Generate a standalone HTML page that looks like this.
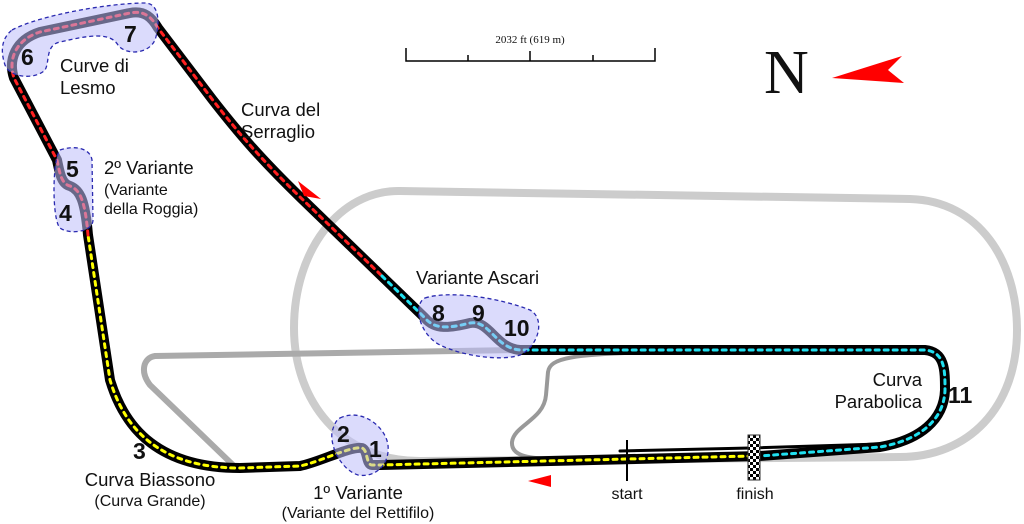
<!DOCTYPE html>
<html><head><meta charset="utf-8"><style>
html,body{margin:0;padding:0;background:#fff;}
svg{display:block}
text{font-family:"Liberation Sans",sans-serif;fill:#111}
</style></head><body>
<svg width="1024" height="524" viewBox="0 0 1024 524" xmlns="http://www.w3.org/2000/svg">
<defs>
<pattern id="chk" width="6" height="6" patternUnits="userSpaceOnUse"><rect width="6" height="6" fill="#fff"/><rect width="3" height="3" fill="#000"/><rect x="3" y="3" width="3" height="3" fill="#000"/></pattern>
</defs>
<path d="M400,191 L910,199 C980,201 1017,262 1017,330 C1017,408 968,457 900,457 L420,461 C340,461 294,400 294,328 C294,250 340,190 400,191 Z" fill="none" stroke="#ccc" stroke-width="8"/>
<path d="M520,350 L155,356 C143,358 140,372 150,385 L233,465" fill="none" stroke="#aaa" stroke-width="6"/>
<path d="M660,352 C570,354 550,358 548,372 L546,395 C544,420 514,425 512,442 C511,456 528,458 550,459" fill="none" stroke="#999" stroke-width="4"/>
<g fill="none" stroke-linecap="round" stroke-linejoin="round">
<path d="M760,456 L380,465 L372,465 C366,465 368,450 362,448 C350,446 320,462 300,466 L240,468 C160,468 125,430 110,380 L88,235 C85,200 80,190 70,186 C62,184 60,175 57,160 L14,78 C8,60 15,40 40,32 L130,13 C145,10 152,18 158,28 L212,99 C240,135 262,160 300,197 L425,318 C435,330 450,328 470,323 C490,320 495,348 520,350 L925,350 C945,352 945,370 945,390 C944,420 920,440 880,447 L760,456" stroke="#000" stroke-width="10"/>
<path d="M620,451 L750,448 L880,444" stroke="#000" stroke-width="3"/>
<path d="M752,456 L380,465 L372,465 C366,465 368,450 362,448 C350,446 320,462 300,466 L240,468 C160,468 125,430 110,380 L88,235" stroke="#ffff00" stroke-width="3" stroke-dasharray="4,5"/>
<path d="M88,235 C85,200 80,190 70,186 C62,184 60,175 57,160 L14,78 C8,60 15,40 40,32 L130,13 C145,10 152,18 158,28 L212,99 C240,135 262,160 300,197 L382,276" stroke="#ff2020" stroke-width="3" stroke-dasharray="4,5"/>
<path d="M382,276 L425,318 C435,330 450,328 470,323 C490,320 495,348 520,350 L925,350 C945,352 945,370 945,390 C944,420 920,440 880,447 L760,456" stroke="#20e0f0" stroke-width="3" stroke-dasharray="4,5"/>
</g>
<g fill="rgba(190,190,250,0.55)" stroke="#2a2ab0" stroke-width="1.3" stroke-dasharray="4,3">
<path d="M12,30 C40,15 110,3 145,3 C160,3 160,25 155,40 C148,55 125,55 118,45 C110,32 90,35 60,42 C45,45 50,62 45,70 C35,80 10,78 5,65 C0,50 2,38 12,30 Z"/>
<path d="M60,150 C75,145 90,148 92,160 L93,220 C93,232 70,235 60,228 C52,220 52,160 60,150 Z"/>
<path d="M425,298 C450,290 500,298 530,310 C545,318 540,345 520,355 C500,362 460,355 440,345 C420,335 412,305 425,298 Z"/>
<path d="M340,418 C360,408 385,425 388,445 C390,465 375,478 358,475 C342,470 330,448 332,432 C334,425 336,420 340,418 Z"/>
</g>
<line x1="627" y1="440" x2="627" y2="481" stroke="#000" stroke-width="2"/>
<rect x="748" y="435" width="12" height="45" fill="url(#chk)" stroke="#333" stroke-width="1"/>
<polygon points="298,181 321,199 304,196" fill="#f00"/>
<polygon points="528,481 551,475 551,487" fill="#f00"/>
<polygon points="832,78 902,56 888,70 904,83" fill="#f00"/>
<g stroke="#000" stroke-width="1.5" fill="none">
<path d="M406,48 L406,61 L655,61 L655,48"/>
<path d="M468,55 L468,61 M530,51 L530,61 M593,55 L593,61"/>
</g>
<text x="530" y="43" text-anchor="middle" style="font-family:'Liberation Serif',serif;font-size:11px">2032 ft (619 m)</text>
<text x="764" y="93" style="font-family:'Liberation Serif',serif;font-size:62px">N</text>
<g style="font-weight:bold;font-size:23px">
<text x="21" y="65">6</text>
<text x="124" y="42">7</text>
<text x="66" y="177">5</text>
<text x="59" y="221">4</text>
<text x="432" y="321">8</text>
<text x="472" y="321">9</text>
<text x="504" y="336">10</text>
<text x="948" y="403">11</text>
<text x="337" y="442">2</text>
<text x="369" y="457">1</text>
<text x="133" y="459">3</text>
</g>
<g style="font-size:18.5px">
<text x="60" y="72">Curve di</text>
<text x="60" y="94">Lesmo</text>
<text x="241" y="116">Curva del</text>
<text x="241" y="138">Serraglio</text>
<text x="104" y="174">2º Variante</text>
<text x="416" y="284">Variante Ascari</text>
<text x="922" y="386" text-anchor="end">Curva</text>
<text x="922" y="408" text-anchor="end">Parabolica</text>
<text x="150" y="486" text-anchor="middle">Curva Biassono</text>
<text x="358" y="499" text-anchor="middle">1º Variante</text>
</g>
<g style="font-size:16px">
<text x="104" y="195">(Variante</text>
<text x="104" y="214">della Roggia)</text>
<text x="150" y="506" text-anchor="middle">(Curva Grande)</text>
<text x="358" y="518" text-anchor="middle">(Variante del Rettifilo)</text>
<text x="627" y="499" text-anchor="middle">start</text>
<text x="755" y="499" text-anchor="middle">finish</text>
</g>
</svg>
</body></html>
